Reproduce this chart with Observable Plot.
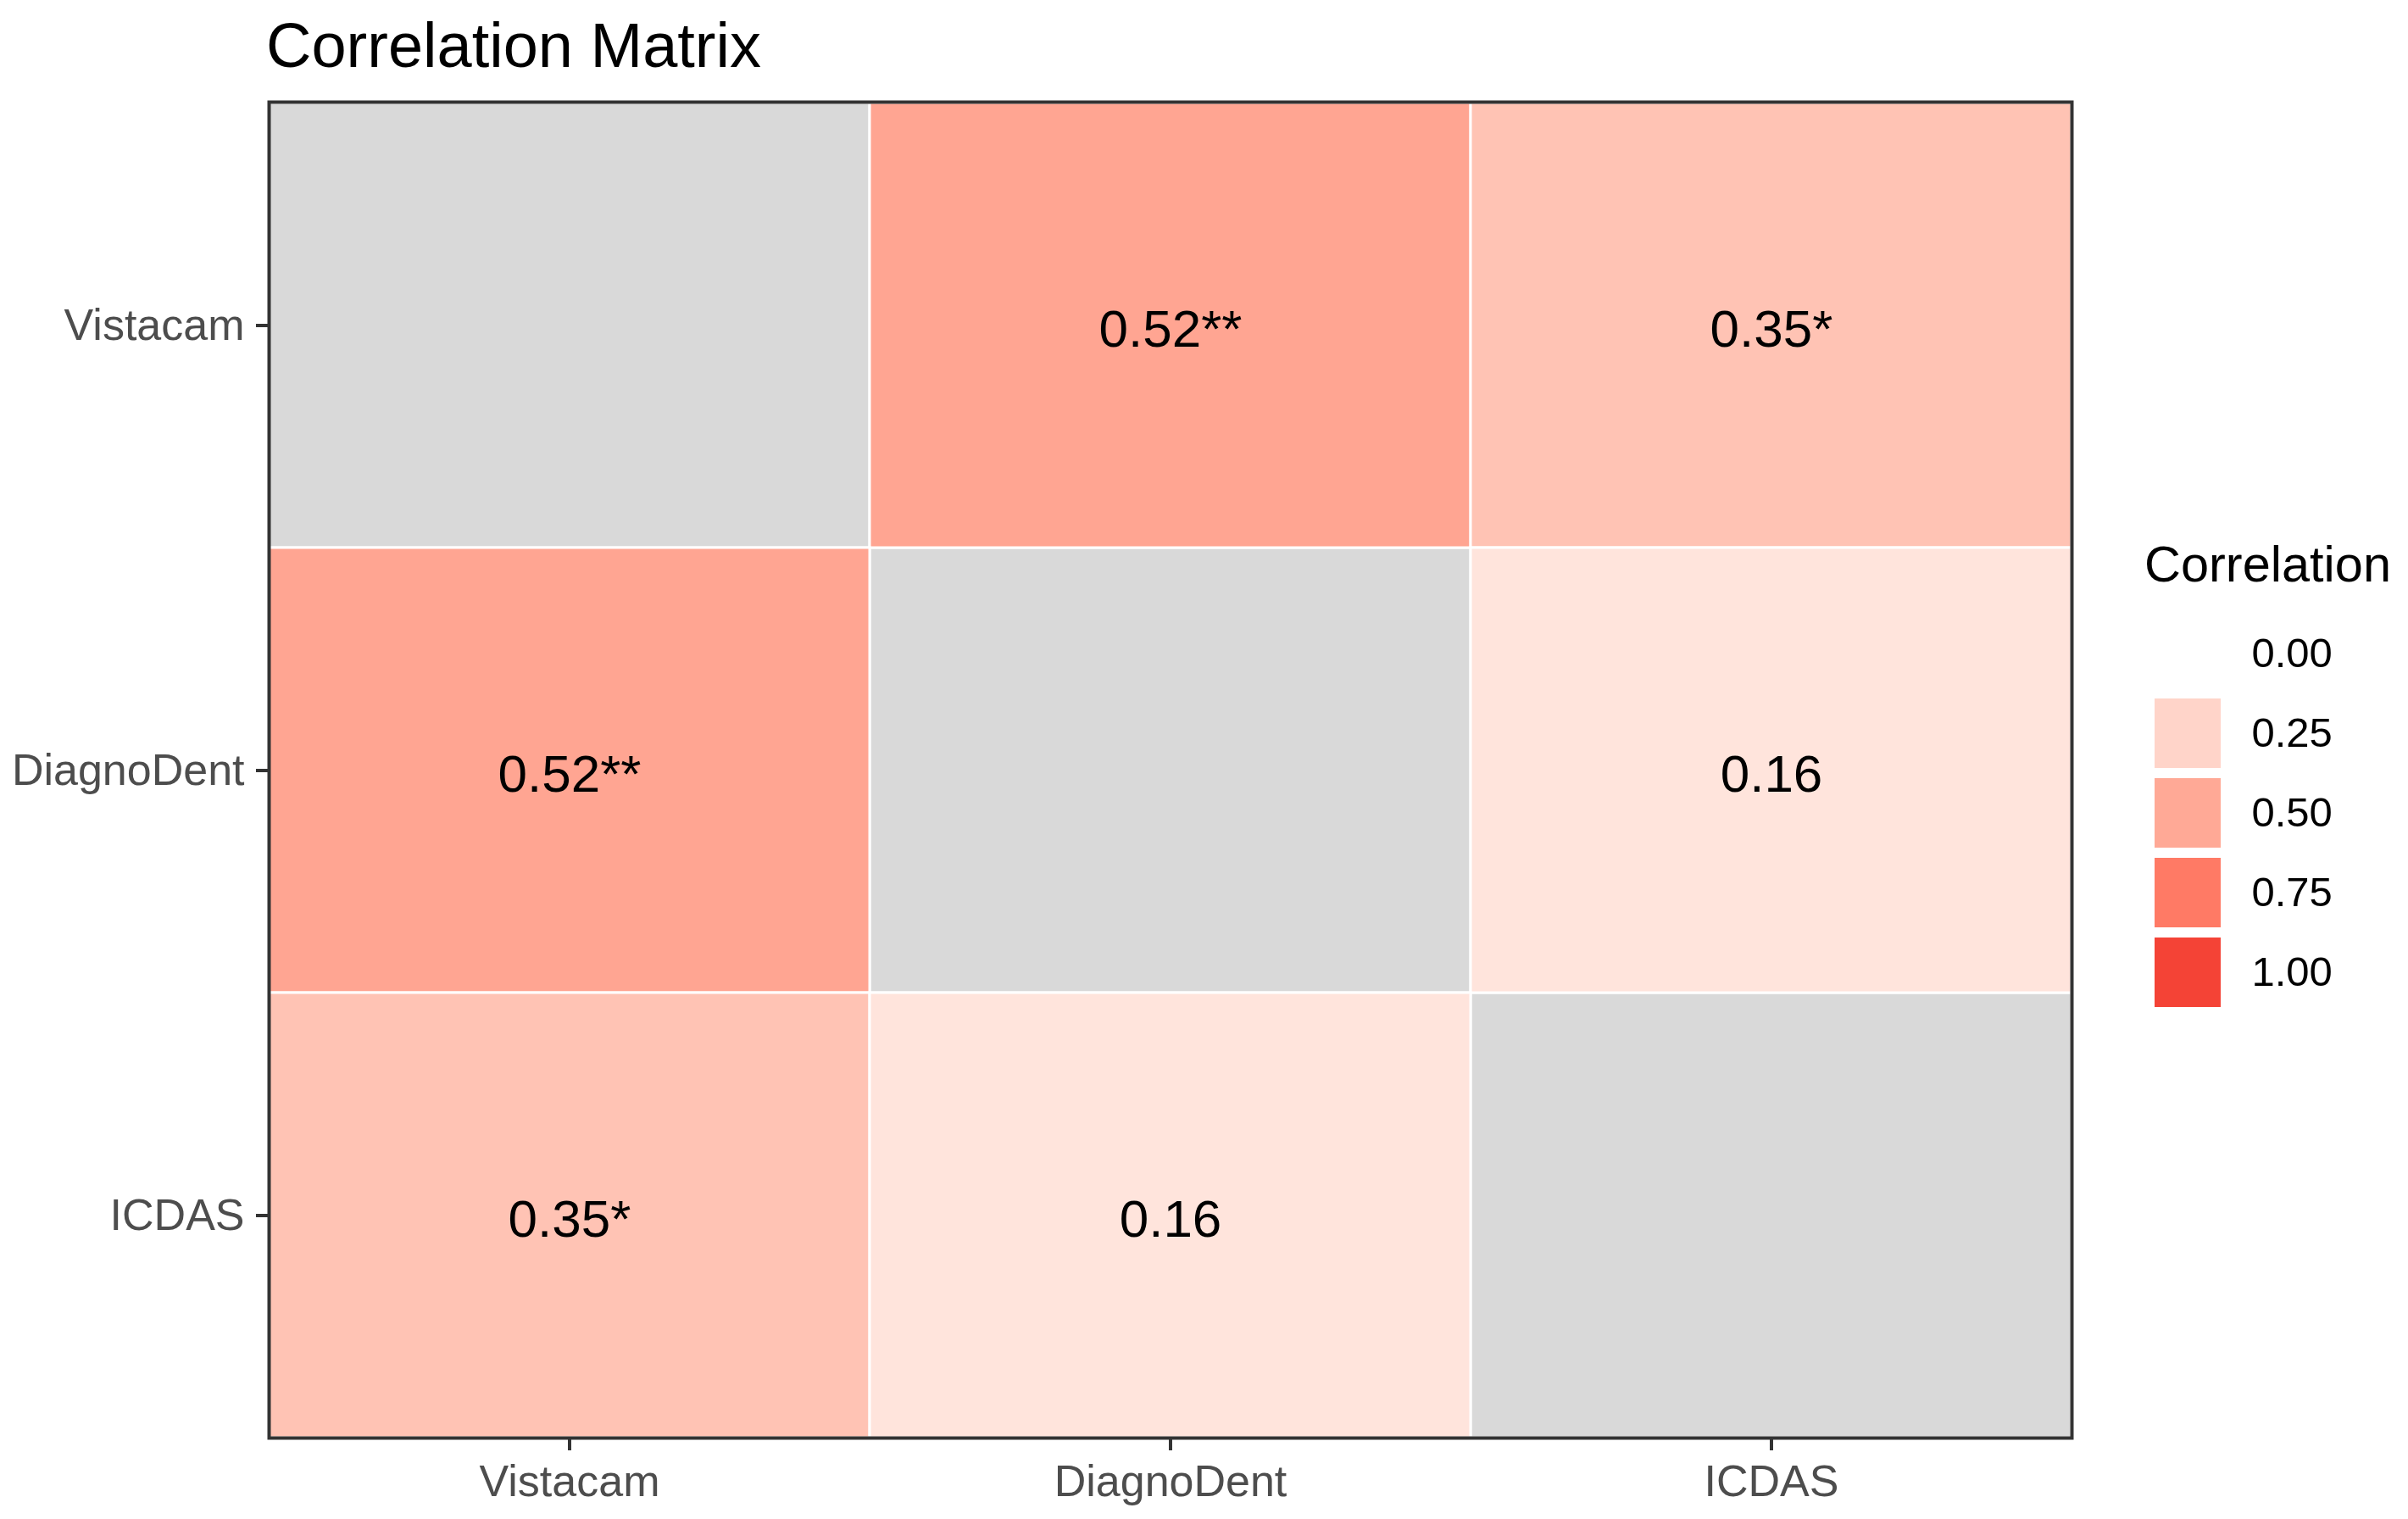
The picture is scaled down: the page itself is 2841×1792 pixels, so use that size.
<!DOCTYPE html>
<html>
<head>
<meta charset="utf-8">
<script src="https://cdn.jsdelivr.net/npm/d3@7"></script>
<script src="https://cdn.jsdelivr.net/npm/@observablehq/plot@0.6"></script>
<style>
  html, body { margin: 0; padding: 0; background: #ffffff; }
  #wrap { position: relative; width: 2841px; height: 1792px; font-family: "Liberation Sans", Arial, sans-serif; }
  .abs { position: absolute; line-height: 1; white-space: nowrap; z-index: 5; }
  #title { left: 314px; top: 17px; font-size: 74px; color: #000; }
  #legtitle { left: 2530px; top: 636px; font-size: 59.5px; color: #000; }
  #main { position: absolute; left: 0; top: 110px; }
  #legend { position: absolute; left: 2530px; top: 620px; }
</style>
</head>
<body>
<div id="wrap">
  <div id="main"></div>
  <div id="legend"></div>
  <div id="title" class="abs">Correlation Matrix</div>
  <div id="legtitle" class="abs">Correlation</div>
</div>
<script>
// ---- data ----
const variables = ["Vistacam", "DiagnoDent", "ICDAS"];
const rowVistacam = [null, 0.52, 0.35];
const rowDiagnoDent = [0.52, null, 0.16];
const rowICDAS = [0.35, 0.16, null];
const labelVistacam = ["", "0.52**", "0.35*"];
const labelDiagnoDent = ["0.52**", "", "0.16"];
const labelICDAS = ["0.35*", "0.16", ""];
const legendBreaks = [0, 0.25, 0.5, 0.75, 1];
const legendLabels = ["0.00", "0.25", "0.50", "0.75", "1.00"];

// ---- build table ----
const rows = [rowVistacam, rowDiagnoDent, rowICDAS];
const labs = [labelVistacam, labelDiagnoDent, labelICDAS];
const cells = [];
variables.forEach((yv, i) => {
  variables.forEach((xv, j) => {
    cells.push({x: xv, y: yv, value: rows[i][j], label: labs[i][j]});
  });
});
const filled = cells.filter(d => d.value != null);
const diag = cells.filter(d => d.value == null);
const legendData = legendBreaks.map((v, i) => ({value: v, label: legendLabels[i]}));

const colorScale = {type: "linear", domain: [0, 1], range: ["#ffffff", "#F44336"], interpolate: "lab"};

const main = Plot.plot({
  width: 2500,
  height: 1682,
  marginTop: 10,
  marginLeft: 317,
  marginRight: 56,
  marginBottom: 96,
  style: {fontFamily: "Liberation Sans, Arial, sans-serif", background: "white"},
  x: {domain: variables, padding: 0, label: null},
  y: {domain: variables, padding: 0, label: null},
  color: colorScale,
  marks: [
    Plot.cell(diag, {x: "x", y: "y", fill: "#D9D9D9", stroke: "white", strokeWidth: 3}),
    Plot.cell(filled, {x: "x", y: "y", fill: "value", stroke: "white", strokeWidth: 3}),
    Plot.text(filled, {x: "x", y: "y", text: "label", fontSize: 62, fill: "#000", dy: 5}),
    Plot.frame({stroke: "#333333", strokeWidth: 4}),
    Plot.axisX({tickSize: 15, tickPadding: 17, fontSize: 52, fill: "#4D4D4D", stroke: "#333333", strokeWidth: 4, label: null}),
    Plot.axisY({tickSize: 15, tickPadding: 14, fontSize: 52, fill: "#4D4D4D", stroke: "#333333", strokeWidth: 4, label: null})
  ]
});
document.getElementById("main").appendChild(main);

const legend = Plot.plot({
  width: 311,
  height: 620,
  marginTop: 103,
  marginBottom: 46,
  marginLeft: 12,
  marginRight: 221,
  style: {fontFamily: "Liberation Sans, Arial, sans-serif", background: "transparent", overflow: "visible"},
  y: {domain: legendLabels, padding: 0, axis: null},
  color: colorScale,
  marks: [
    Plot.cell(legendData, {y: "label", fill: "value", insetTop: 6, insetBottom: 6}),
    Plot.text(legendData, {y: "label", text: "label", frameAnchor: "right", dx: 36, textAnchor: "start", fontSize: 49, fill: "#000"})
  ]
});
document.getElementById("legend").appendChild(legend);
</script>
</body>
</html>
